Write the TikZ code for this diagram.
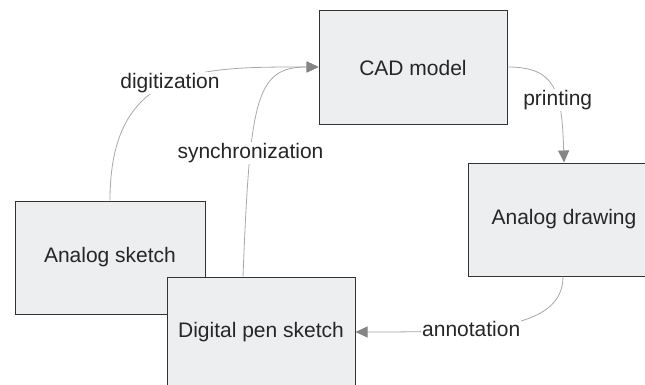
\documentclass[tikz,border=0pt]{standalone}
\usepackage{fontspec}
\setmainfont{Liberation Sans}
\usetikzlibrary{arrows.meta}
\definecolor{boxfill}{HTML}{EDEEF0}
\definecolor{boxdraw}{HTML}{333333}
\definecolor{linegray}{HTML}{A8A8A8}
\definecolor{tipgray}{HTML}{858585}
\tikzset{
  stagebox/.style={draw=boxdraw, fill=boxfill, line width=1pt, inner sep=0pt, font=\fontsize{21}{25}\selectfont, text=black!85},
  flowline/.style={draw=linegray, line width=0.8pt, -{Triangle[length=12pt,width=11pt,fill=tipgray,color=tipgray]}},
  flowlabel/.style={fill=white, inner sep=1pt, font=\fontsize{21}{25}\selectfont, text=black!85}
}
\begin{document}
\begin{tikzpicture}[x=1pt,y=-1pt]
\useasboundingbox (0,0) rectangle (645,385);
\node[stagebox, minimum width=188pt, minimum height=114pt] (cad) at (413,68) {CAD model};
\node[stagebox, minimum width=192pt, minimum height=113pt] (adraw) at (564,219.5) {Analog drawing};
\node[stagebox, minimum width=190pt, minimum height=113pt] (asketch) at (110,257.5) {Analog sketch};
\node[stagebox, minimum width=188pt, minimum height=110pt] (dpen) at (261,332) {Digital pen sketch};
\coordinate (cadin) at ([yshift=1pt]cad.west);
\draw[flowline] (asketch.north) .. controls ++(0,-135) and ++(-118,0) .. (cadin)
  node[flowlabel, pos=0.5] {digitization};
\draw[flowline] ([xshift=-18pt]dpen.north) .. controls ++(7,-177) and ++(-63,0) .. (cadin)
  node[flowlabel, pos=0.3] {synchronization};
\draw[flowline] ([yshift=1pt]cad.east) .. controls ++(48,0) and ++(-2,-72) .. ([xshift=0pt]adraw.north)
  node[flowlabel, pos=0.62] {printing};
\draw[flowline] ([xshift=-1pt]adraw.south) .. controls ++(0,54) and ++(123,0) .. (dpen.east)
  node[flowlabel, pos=0.64] {annotation};
\end{tikzpicture}
\end{document}
